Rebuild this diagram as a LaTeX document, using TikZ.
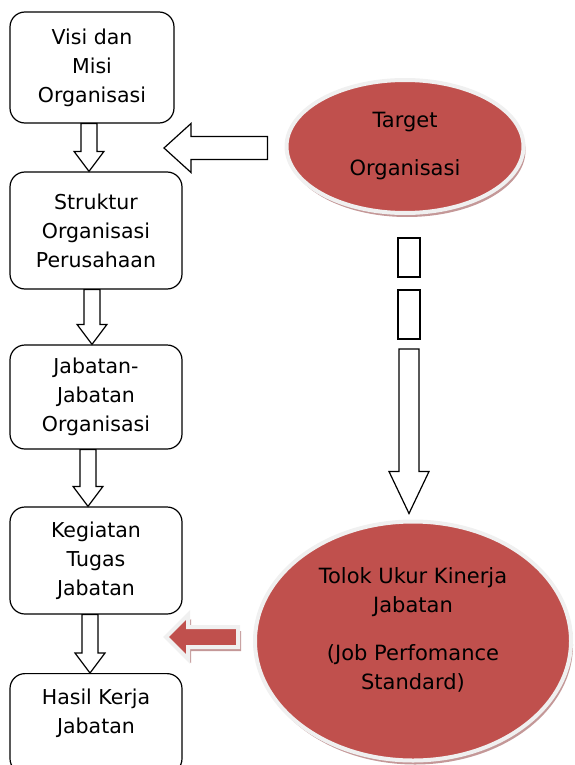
\documentclass[tikz,border=0pt]{standalone}
\usepackage{fontspec}
\setmainfont{DejaVu Sans}
\usepackage{xcolor}
\usepackage{tikz}
\usetikzlibrary{positioning,calc,shapes.geometric,shadows}
\definecolor{bubblered}{RGB}{192,80,77}
\definecolor{bubblerim}{RGB}{240,240,240}
\definecolor{bubbleshade}{RGB}{196,152,152}

% hollow block arrow between two boxes, at x = #3
\newcommand{\blkdown}[3]{%
  \draw[hollowarrow] let \p1=(#1.south), \p2=(#2.north) in
    (#3-8,\y1) -- (#3+8,\y1) -- (#3+8,\y2+20pt) -- (#3+15,\y2+20pt) -- (#3,\y2)
    -- (#3-15,\y2+20pt) -- (#3-8,\y2+20pt) -- cycle;}

\begin{document}
\begin{tikzpicture}[x=1pt,y=-1pt,flowbox/.style={rectangle,draw,line width=1.2pt,rounded corners=15pt,align=center,inner sep=0pt,font=\fontsize{20.5}{29}\selectfont},boxtext/.style={align=center,font=\fontsize{20.5}{29}\selectfont},bubbletext/.style={align=center,font=\fontsize{21}{29}\selectfont},bubble/.style={ellipse,fill=bubblered,draw=bubblerim,line width=4pt,inner sep=0pt,bubbletext,drop shadow={shadow xshift=2pt,shadow yshift=-4pt,fill=bubbleshade,opacity=1}},hollowarrow/.style={draw,fill=white,line width=1.2pt,line join=miter},redarrow/.style={fill=bubblered,draw=bubblerim,line width=4pt,line join=miter,drop shadow={shadow xshift=3pt,shadow yshift=-4pt,fill=bubbleshade,opacity=1}}]
    \useasboundingbox (0,0) rectangle (575,765);
    \clip (0,0) rectangle (575,765);
        \node[flowbox,minimum width=164pt,minimum height=111pt] (visi) at (92,67.5) {Visi dan\\Misi\\Organisasi};
        \node[flowbox,minimum width=172pt,minimum height=117pt] (struktur) at (96,230.5) {Struktur\\Organisasi\\Perusahaan};
        \node[flowbox,minimum width=172pt,minimum height=104pt] (jabatan) at (96,397) {Jabatan-\\Jabatan\\Organisasi};
        \node[flowbox,minimum width=172pt,minimum height=107pt] (kegiatan) at (96,560.5) {Kegiatan\\Tugas\\Jabatan};
        \node[flowbox,minimum width=172pt,minimum height=100pt,anchor=north,label={[boxtext,anchor=north,yshift=-12pt]north:{Hasil Kerja\\Jabatan}}] (hasil) at (96,673) {};
        \node[bubble,minimum width=237pt,minimum height=133pt] (target) at (405,146.5) {Target\\[19pt]Organisasi};
        \node[bubble,minimum width=316pt,minimum height=239pt,label={[bubbletext,yshift=11pt]center:{Tolok Ukur Kinerja\\Jabatan\\[19pt](Job Perfomance\\Standard)}}] (tolok) at (413,641) {};
	\blkdown{visi}{struktur}{89}
	\blkdown{struktur}{jabatan}{92}
	\blkdown{jabatan}{kegiatan}{88}
	\blkdown{kegiatan}{hasil}{90}
	% target -> organisation
	\coordinate (inflow) at (164,148);
	\draw[hollowarrow] let \p1=(inflow), \p2=(target.west) in
	    (\x2-17pt,\y1-11.5pt) -- (\x1+27pt,\y1-11.5pt) -- (\x1+27pt,\y1-24.5pt) -- (\x1,\y1)
	    -- (\x1+27pt,\y1+24.5pt) -- (\x1+27pt,\y1+11.5pt) -- (\x2-17pt,\y1+11.5pt) -- cycle;
	% target -> tolok ukur (broken arrow)
	\draw[hollowarrow] let \p1=(target.south) in
	    (398,\y1-23pt) rectangle (420,\y1-62pt)
	    (398,\y1-75pt) rectangle (420,\y1-124pt);
	\draw[hollowarrow] let \p1=(target.south), \p2=(tolok.north) in
	    (399,\y1-134pt) -- (419,\y1-134pt) -- (419,\y2+48pt) -- (429,\y2+48pt) -- (409,\y2+6pt)
	    -- (389,\y2+48pt) -- (399,\y2+48pt) -- cycle;
	% tolok ukur -> kegiatan
	\coordinate (outflow) at (166,637);
	\draw[redarrow] let \p1=(outflow), \p2=(tolok.west) in
	    (\x2-15pt,\y1-10pt) -- (\x1+22pt,\y1-10pt) -- (\x1+22pt,\y1-22pt) -- (\x1,\y1)
	    -- (\x1+22pt,\y1+22pt) -- (\x1+22pt,\y1+10pt) -- (\x2-15pt,\y1+10pt) -- cycle;
	%\node[below = of tolok] {};
    \end{tikzpicture}
\end{document}
